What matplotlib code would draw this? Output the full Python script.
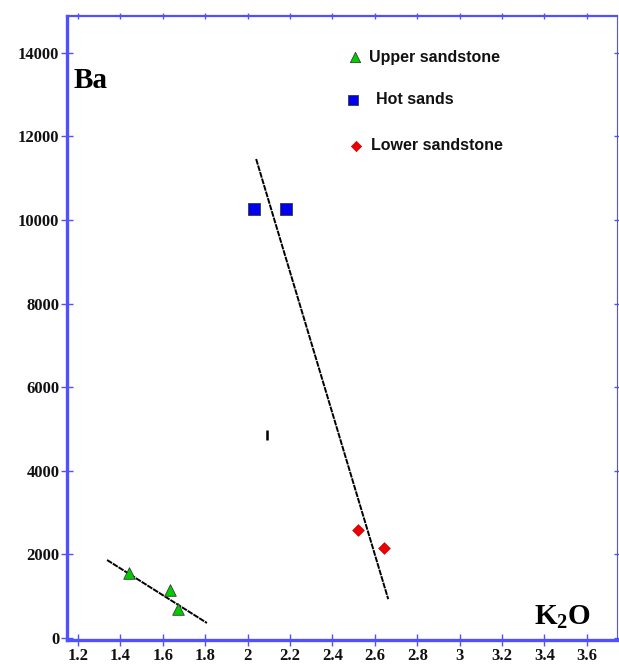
import matplotlib
matplotlib.use("Agg")
import matplotlib.pyplot as plt

# K2O (wt%) vs Ba (ppm) for the three units
upper_k2o = [1.44, 1.634, 1.672]
upper_ba = [1555, 1150, 690]
hot_k2o = [2.03, 2.181]
hot_ba = [10263, 10263]
lower_k2o = [2.521, 2.643]
lower_ba = [2584, 2153]

# trend lines (end points)
upper_fit_k2o = [1.337, 1.808]
upper_fit_ba = [1866, 359]
main_fit_k2o = [2.04, 2.663]
main_fit_ba = [11459, 930]

# stray mark in the plot area
stray_k2o = 2.09
stray_ba = [4740, 4980]

x_ticks = [1.2, 1.4, 1.6, 1.8, 2.0, 2.2, 2.4, 2.6, 2.8, 3.0, 3.2, 3.4, 3.6]
x_labels = ["1.2", "1.4", "1.6", "1.8", "2", "2.2", "2.4", "2.6", "2.8", "3",
            "3.2", "3.4", "3.6"]
y_ticks = [0, 2000, 4000, 6000, 8000, 10000, 12000, 14000]
y_labels = ["0", "2000", "4000", "6000", "8000", "10000", "12000", "14000"]

legend_names = ["Upper sandstone", "Hot sands", "Lower sandstone"]

plt.rcParams["mathtext.default"] = "regular"
axis_blue = "#5050ff"

fig = plt.figure(figsize=(6.19, 6.64), dpi=100)
ax = fig.add_axes([67 / 619, 1 - 640 / 664, 550 / 619, 624 / 664])
ax.set_xlim(1.148, 3.742)
ax.set_ylim(-48, 14880)

# trend lines
ax.plot(upper_fit_k2o, upper_fit_ba, color="black", lw=1.4, ls=(0, (3, 0.5)))
ax.plot(main_fit_k2o, main_fit_ba, color="black", lw=1.4, ls=(0, (3, 0.5)))
ax.vlines(stray_k2o, stray_ba[0], stray_ba[1], color="black", lw=1.8)

# samples
ax.scatter(upper_k2o, upper_ba, marker="^", s=70, color="#00cc00",
           edgecolors="#3a3a3a", linewidths=0.6, zorder=3)
ax.scatter(hot_k2o, hot_ba, marker="s", s=70, color="#0000ee",
           edgecolors="#3a3a3a", linewidths=0.6, zorder=3)
ax.scatter(lower_k2o, lower_ba, marker="D", s=36, color="#ee0000",
           edgecolors="#aa0000", linewidths=0.4, zorder=3)

# hand-placed legend
leg_font = dict(family="Liberation Sans", fontweight="bold", fontsize=11.5,
                color="#111111", va="center", transform=ax.transAxes)
ax.scatter([0.5236], [0.934], marker="^", s=55, color="#00cc00",
           edgecolors="#3a3a3a", linewidths=0.6, transform=ax.transAxes,
           clip_on=False)
ax.text(0.549, 0.934, legend_names[0], **leg_font)
ax.scatter([0.520], [0.8654], marker="s", s=55, color="#0000ee",
           edgecolors="#3a3a3a", linewidths=0.6, transform=ax.transAxes,
           clip_on=False)
ax.text(0.562, 0.8654, legend_names[1], **leg_font)
ax.scatter([0.5255], [0.7917], marker="D", s=28, color="#ee0000",
           edgecolors="#aa0000", linewidths=0.4, transform=ax.transAxes,
           clip_on=False)
ax.text(0.553, 0.7917, legend_names[2], **leg_font)

# axis titles inside the frame
ax.text(0.012, 0.896, "Ba", transform=ax.transAxes, family="Liberation Serif",
        fontweight="bold", fontsize=21, va="center", ha="left")
ax.text(0.85, 0.037, "K$_2$O", transform=ax.transAxes,
        family="Liberation Serif", fontweight="bold", fontsize=21,
        va="center", ha="left")

# frame
for side, lw in [("left", 2.4), ("bottom", 2.4), ("top", 1.6), ("right", 0.8)]:
    ax.spines[side].set_color(axis_blue)
    ax.spines[side].set_linewidth(lw)

ax.set_xticks(x_ticks)
ax.set_xticklabels(x_labels)
ax.set_yticks(y_ticks)
ax.set_yticklabels(y_labels)
ax.tick_params(axis="x", direction="inout", length=9, width=1, color=axis_blue,
               top=True, pad=1)
ax.tick_params(axis="y", direction="inout", length=9, width=1, color=axis_blue,
               right=True, pad=1)
for t in ax.xaxis.get_major_ticks():
    t.tick2line.set_markersize(4)
for t in ax.yaxis.get_major_ticks():
    t.tick2line.set_markersize(4)
for lab in ax.get_xticklabels() + ax.get_yticklabels():
    lab.set_family("Liberation Serif")
    lab.set_fontweight("bold")
    lab.set_fontsize(12)
    lab.set_color("#111111")

fig.savefig("out.png", dpi=100, facecolor="white")
